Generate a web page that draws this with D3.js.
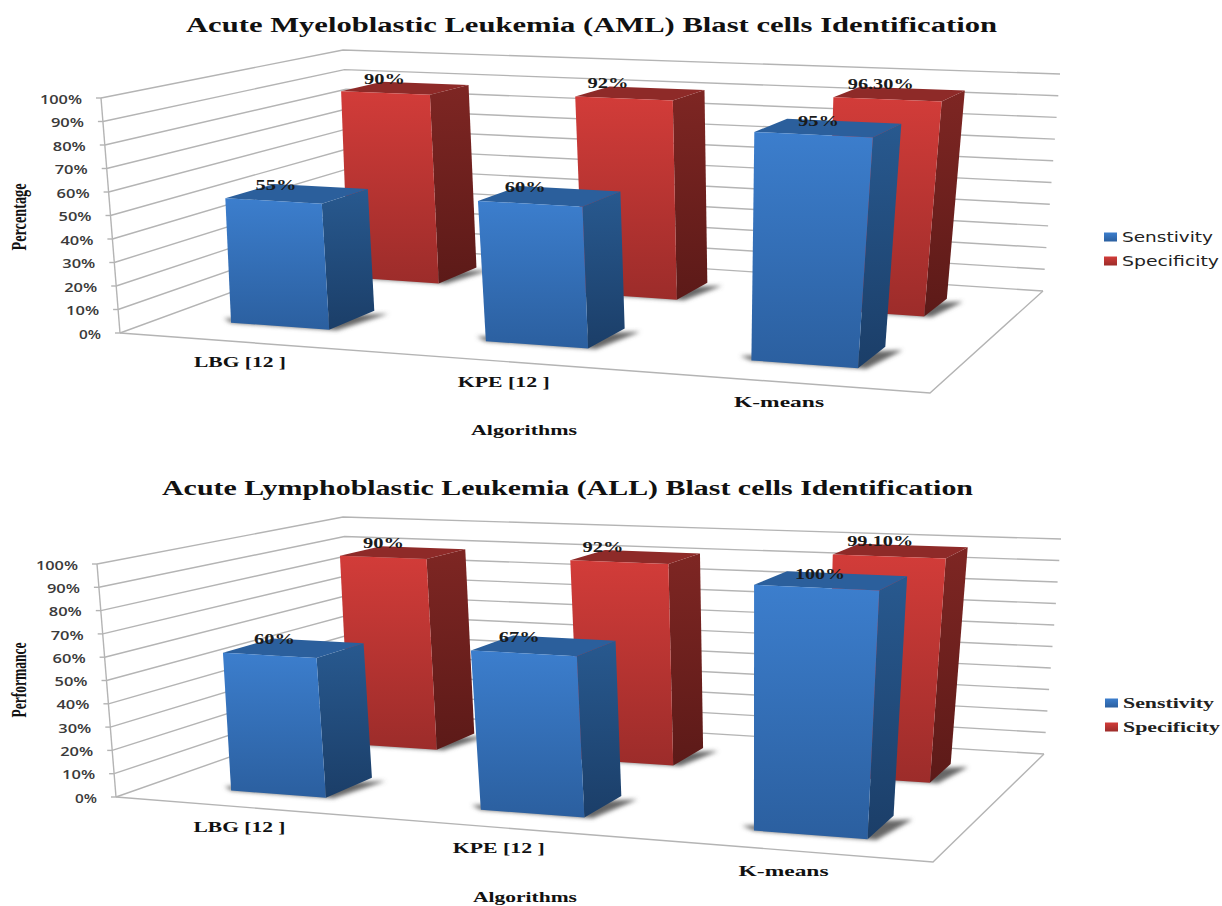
<!DOCTYPE html>
<html>
<head>
<meta charset="utf-8">
<title>Blast cells Identification</title>
<script src="https://cdn.jsdelivr.net/npm/d3@7"></script>
<style>
  html, body { margin: 0; padding: 0; background: #fff; }
  svg { display: block; }
</style>
</head>
<body>
<div id="chart"></div>
<script>
const categories = ["LBG [12 ]", "KPE [12 ]", "K-means"];
const series = ["Senstivity", "Specificity"];
const tickValues = [0, 10, 20, 30, 40, 50, 60, 70, 80, 90, 100];

const sensitivityAml = [55, 60, 95];
const specificityAml = [90, 92, 96.3];
const sensitivityAll = [60, 67, 100];
const specificityAll = [90, 92, 99.1];

const amlLabels = ["55%", "60%", "95%", "90%", "92%", "96.30%"];
const allLabels = ["60%", "67%", "100%", "90%", "92%", "99.10%"];

const width = 1222, height = 906;

const colors = {
  Senstivity: { front: ["#3c7ecd", "#2b5f9f"], side: ["#28598f", "#1b3e68"], top: "#2b5f9c" },
  Specificity: { front: ["#d23c39", "#9c2c2a"], side: ["#7e2623", "#5c1a18"], top: "#8e2a28" }
};

const svg = d3.select("#chart").append("svg")
  .attr("width", width)
  .attr("height", height)
  .attr("viewBox", [0, 0, width, height]);

const defs = svg.append("defs");
defs.append("filter").attr("id", "soft")
  .attr("x", "-30%").attr("y", "-80%").attr("width", "160%").attr("height", "260%")
  .append("feGaussianBlur").attr("stdDeviation", 2.2);

Object.entries(colors).forEach(([name, c]) => {
  ["front", "side"].forEach(face => {
    const g = defs.append("linearGradient")
      .attr("id", `${name}-${face}`)
      .attr("x1", 0).attr("y1", 0).attr("x2", 0).attr("y2", 1);
    g.append("stop").attr("offset", "0%").attr("stop-color", c[face][0]);
    g.append("stop").attr("offset", "100%").attr("stop-color", c[face][1]);
  });
});

// maps the unit square onto a quad, p0 (0,0) p1 (1,0) p2 (1,1) p3 (0,1)
function quadMap([p0, p1, p2, p3]) {
  const dx1 = p1[0] - p2[0], dx2 = p3[0] - p2[0], sx = p0[0] - p1[0] + p2[0] - p3[0];
  const dy1 = p1[1] - p2[1], dy2 = p3[1] - p2[1], sy = p0[1] - p1[1] + p2[1] - p3[1];
  const det = dx1 * dy2 - dx2 * dy1;
  const g = (sx * dy2 - dx2 * sy) / det;
  const h = (dx1 * sy - sx * dy1) / det;
  const a = p1[0] - p0[0] + g * p1[0], b = p3[0] - p0[0] + h * p3[0];
  const d = p1[1] - p0[1] + g * p1[1], e = p3[1] - p0[1] + h * p3[1];
  return (u, v) => {
    const w = g * u + h * v + 1;
    return [(a * u + b * v + p0[0]) / w, (d * u + e * v + p0[1]) / w];
  };
}

function fitText(sel, len) {
  return sel.attr("textLength", len).attr("lengthAdjust", "spacingAndGlyphs");
}

function drawPanel(cfg) {
  const g = svg.append("g");
  const floor = quadMap(cfg.floor);
  const ceil = quadMap(cfg.ceil);
  const h = d3.scaleLinear().domain([0, 100]).range([0, 1]);
  const barH = d3.scaleLinear().domain([0, 100]).range([0, cfg.barTop]);
  const uScale = d3.scaleBand().domain(categories).range(cfg.uRange).paddingInner(0.61).paddingOuter(0.305);
  const vScale = d3.scaleBand().domain(series).range(cfg.depth).paddingInner(0.61).paddingOuter(0.305);

  const place = (a, b, t) => [a[0] + (b[0] - a[0]) * t, a[1] + (b[1] - a[1]) * t];
  const project = (u, v, value) => place(floor(u, v), ceil(u, v), h(value));
  // bars sit a little off the wall grid in the original, hence shear and ceilShift
  const barPoint = (u, v, value) => {
    const us = u + cfg.shear * (0.5 - v);
    return place(floor(us, v), ceil(us + cfg.ceilShift, v), barH(value));
  };
  const line = d3.line();

  // walls
  const grid = g.append("g").attr("fill", "none").attr("stroke", "#b4b4b4").attr("stroke-width", 1.4);
  grid.selectAll("path.wall")
    .data(tickValues)
    .join("path")
    .attr("class", "wall")
    .attr("d", d => line([project(0, 0, d), project(0, 1, d), project(1, 1, d)]));
  grid.append("path").attr("d", line([project(0, 0, 0), project(0, 0, 100)]));
  grid.append("path").attr("d", line([project(0, 0, 0), project(1, 0, 0), project(1, 1, 0)]));
  grid.selectAll("path.tick")
    .data(tickValues)
    .join("path")
    .attr("class", "tick")
    .attr("d", d => {
      const p = project(0, 0, d);
      return line([[p[0] - 5, p[1]], p]);
    });

  g.append("g").selectAll("text")
    .data(tickValues)
    .join("text")
    .attr("x", d => project(0, 0, d)[0] - 19)
    .attr("y", d => project(0, 0, d)[1])
    .attr("dy", "0.45em")
    .attr("text-anchor", "end")
    .attr("fill", "#3a3a3a")
    .attr("font-family", "'Open Sans', sans-serif")
    .attr("font-weight", 600)
    .attr("font-size", 12.5)
    .text(d => d + "%")
    .each(function (d) { fitText(d3.select(this), d === 100 ? 42 : d === 0 ? 22 : 33); });

  // red row first, the blue row stands in front of it
  const rows = [
    { name: series[1], values: cfg.specificity },
    { name: series[0], values: cfg.sensitivity }
  ];
  rows.forEach(row => {
    const c = row.name;
    const v0 = vScale(c), v1 = v0 + vScale.bandwidth();
    row.values.forEach((value, i) => {
      const u0 = uScale(categories[i]), u1 = u0 + uScale.bandwidth();
      const bar = g.append("g");
      bar.append("path")
        .attr("d", line([
          barPoint(u0 - 0.02, v0 + 0.03, 0),
          barPoint(u1 + 0.025, v1 - 0.02, 0),
          barPoint(u1 + 0.01, v0, 0),
          barPoint(u0, v0, 0)
        ]) + "Z")
        .attr("fill", "#666")
        .attr("filter", "url(#soft)");
      bar.append("path")
        .attr("d", line([barPoint(u1, v0, 0), barPoint(u1, v1, 0), barPoint(u1, v1, value), barPoint(u1, v0, value)]) + "Z")
        .attr("fill", `url(#${c}-side)`);
      bar.append("path")
        .attr("d", line([barPoint(u0, v0, value), barPoint(u1, v0, value), barPoint(u1, v1, value), barPoint(u0, v1, value)]) + "Z")
        .attr("fill", colors[c].top);
      bar.append("path")
        .attr("d", line([barPoint(u0, v0, 0), barPoint(u1, v0, 0), barPoint(u1, v0, value), barPoint(u0, v0, value)]) + "Z")
        .attr("fill", `url(#${c}-front)`);
    });
  });

  // value labels, the chart pushes them further along the bar towards the right
  const labelNudge = [[0.02, 0.06, 0.28], [0.03, -0.02, 0.2]];
  series.forEach((c, r) => {
    const vals = r === 0 ? cfg.sensitivity : cfg.specificity;
    vals.forEach((value, i) => {
      const u0 = uScale(categories[i]);
      const p = barPoint(u0 + uScale.bandwidth() * labelNudge[r][i], vScale(c) + vScale.bandwidth(), value);
      const label = cfg.labels[r * 3 + i];
      fitText(g.append("text")
        .attr("x", p[0])
        .attr("y", p[1] + (r === 0 ? 1 : -3))
        .attr("dy", "0.35em")
        .attr("text-anchor", "middle")
        .attr("font-family", "'Liberation Serif', serif")
        .attr("font-weight", 700)
        .attr("font-size", 14)
        .attr("fill", "#1a1a1a")
        .text(label), label.length > 4 ? 66 : label.length > 3 ? 50 : 41);
    });
  });

  // category labels, under the front edge of the floor
  categories.forEach((name, i) => {
    const p = project(uScale(name) + uScale.bandwidth() / 2, 0, 0);
    fitText(g.append("text")
      .attr("x", p[0] + cfg.catOffset[0])
      .attr("y", p[1] + cfg.catOffset[1])
      .attr("dy", "0.35em")
      .attr("text-anchor", "middle")
      .attr("font-family", "'Liberation Serif', serif")
      .attr("font-weight", 700)
      .attr("font-size", 15)
      .attr("fill", "#111")
      .text(name), i === 2 ? 90 : 92);
  });

  const titleStyle = sel => sel
    .attr("font-family", "'Liberation Serif', serif")
    .attr("font-weight", 700)
    .attr("fill", "#111");

  fitText(g.append("text")
    .attr("x", cfg.title.x).attr("y", cfg.title.y)
    .attr("dy", "0.35em")
    .attr("font-size", 20)
    .call(titleStyle)
    .text(cfg.title.text), cfg.title.len);

  fitText(g.append("text")
    .attr("x", cfg.xTitle.x).attr("y", cfg.xTitle.y)
    .attr("dy", "0.35em")
    .attr("text-anchor", "middle")
    .attr("font-size", 14.5)
    .call(titleStyle)
    .text("Algorithms"), cfg.xTitle.len);

  fitText(g.append("text")
    .attr("transform", `translate(${cfg.yTitle.x},${cfg.yTitle.y}) rotate(-90)`)
    .attr("text-anchor", "middle")
    .attr("dy", "0.35em")
    .attr("font-size", 21)
    .call(titleStyle)
    .text(cfg.yTitle.text), cfg.yTitle.len);

  // legend
  const legend = d3.scalePoint().domain(series).range(cfg.legend.y);
  series.forEach(name => {
    const y = legend(name);
    g.append("rect")
      .attr("x", cfg.legend.x).attr("y", y - 4.5)
      .attr("width", 13).attr("height", 9)
      .attr("fill", `url(#${name}-front)`);
    fitText(g.append("text")
      .attr("x", cfg.legend.x + 18).attr("y", y)
      .attr("dy", "0.35em")
      .attr("font-family", cfg.legend.font)
      .attr("font-weight", cfg.legend.weight)
      .attr("font-size", 14.5)
      .attr("fill", "#222")
      .text(name), name === series[0] ? 91 : 97);
  });
}

drawPanel({
  floor: [[120, 333], [930, 393], [1043, 291], [358, 246]],
  ceil: [[101, 98], [943, 137], [1060, 74], [343, 50]],
  uRange: [-0.009, 0.991],
  ceilShift: 0.016,
  shear: 0,
  barTop: 0.985,
  depth: [0, 1],
  sensitivity: sensitivityAml,
  specificity: specificityAml,
  labels: amlLabels,
  catOffset: [-1, 20],
  title: { text: "Acute Myeloblastic Leukemia (AML) Blast cells Identification", x: 186, y: 25, len: 811 },
  xTitle: { x: 524, y: 430, len: 106 },
  yTitle: { text: "Percentage", x: 19, y: 217, len: 67 },
  legend: { x: 1104, y: [237, 261], font: "'DejaVu Sans', sans-serif", weight: 400 }
});

drawPanel({
  floor: [[116, 797], [933, 862], [1044, 754], [358, 712]],
  ceil: [[97, 564], [941, 604], [1061, 539], [343, 517]],
  uRange: [0.006, 1.006],
  ceilShift: 0.012,
  shear: 0.012,
  barTop: 1,
  depth: [-0.03, 0.99],
  sensitivity: sensitivityAll,
  specificity: specificityAll,
  labels: allLabels,
  catOffset: [-2, 20],
  title: { text: "Acute Lymphoblastic Leukemia (ALL) Blast cells Identification", x: 162, y: 488, len: 811 },
  xTitle: { x: 525, y: 897, len: 104 },
  yTitle: { text: "Performance", x: 19, y: 680, len: 75 },
  legend: { x: 1105, y: [703, 727], font: "'Liberation Serif', serif", weight: 700 }
});
</script>
</body>
</html>
